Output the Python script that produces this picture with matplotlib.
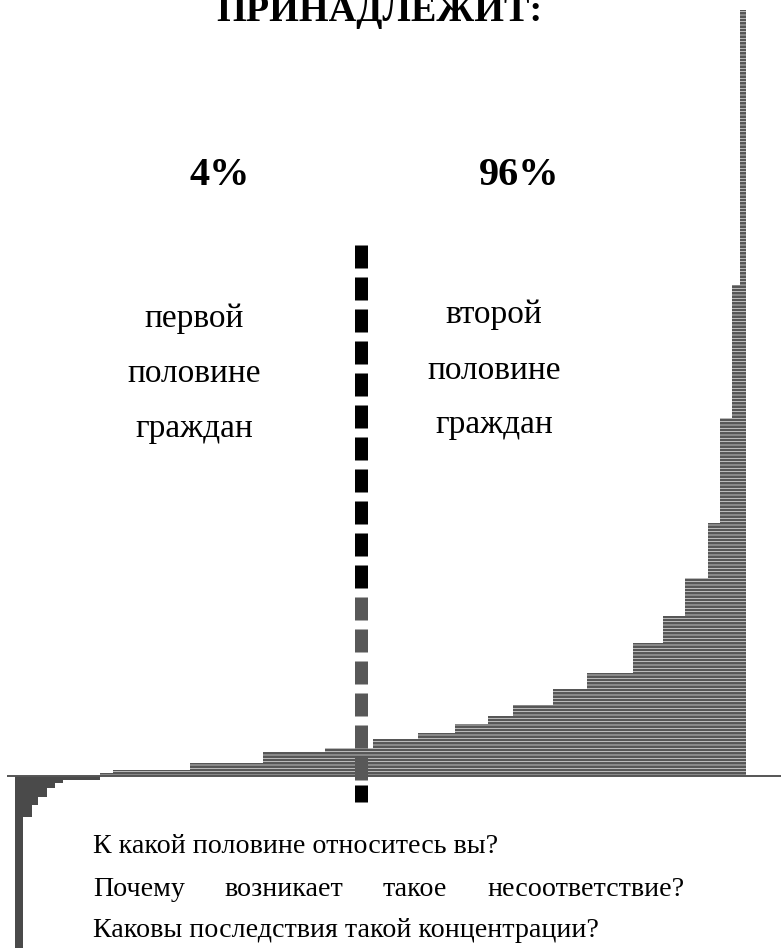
import numpy as np
import matplotlib
matplotlib.use("Agg")
import matplotlib.pyplot as plt

plt.rcParams['font.family'] = ['Liberation Serif', 'DejaVu Serif']
plt.rcParams['hatch.linewidth'] = 0.5
plt.rcParams['lines.scale_dashes'] = False

# ---- data: population percentile step edges and wealth per step ----
edges = [0, 1.1, 2.3, 3.1, 4.4, 5.5, 6.6, 11.6, 13.4, 23.9, 33.9, 42.4, 49.0,
         55.1, 60.2, 64.7, 68.1, 73.6, 78.2, 84.5, 88.6, 91.7, 94.8, 96.4,
         98.1, 99.2, 100]
wealth = [-185, -41, -29, -21, -12, -7, -4, 3, 6, 13, 24, 28, 37,
          43, 52, 60, 71, 87, 103, 133, 160, 198, 253, 358, 491, 766]
median_x = 47.3

title = "ПРИНАДЛЕЖИТ:"
share_labels = ["4%", "96%"]
left_label = ["первой", "половине", "граждан"]
right_label = ["второй", "половине", "граждан"]
questions_1 = "К какой половине относитесь вы?"
questions_2 = ["Почему", "возникает", "такое", "несоответствие?"]
questions_3 = "Каковы последствия такой концентрации?"

W, H = 781, 948
fig = plt.figure(figsize=(W / 100, H / 100), dpi=100)
fig.patch.set_facecolor('white')

# main data axes mapped so that 0% -> px 15, 100% -> px 746, baseline at py 776
x0_px, x1_px, base_py = 15, 746, 776
sx = (x1_px - x0_px) / 100.0
ax = fig.add_axes([0, 0, 1, 1])
ax.set_xlim(-x0_px / sx, (W - x0_px) / sx)
ax.set_ylim(base_py - H, base_py)
ax.axis('off')

e = np.array(edges)
v = np.array(wealth)
widths = np.diff(e)
neg = v < 0
ax.bar(e[:-1][neg], v[neg], width=widths[neg], align='edge',
       color='#4a4a4a', linewidth=0, zorder=2)
ax.bar(e[:-1][~neg], v[~neg], width=widths[~neg], align='edge',
       facecolor='#565656', edgecolor='#e8e8e8', hatch='-----', linewidth=0,
       zorder=2)

# baseline
ax.plot([(7 - x0_px) / sx, (W - x0_px) / sx], [0, 0], color='#555555',
        lw=1.4, zorder=3, solid_capstyle='butt')

# dividing dashed line
lw_pt = 13 * 0.72
ax.plot([median_x, median_x], [base_py - 245, base_py - 588], color='black',
        lw=lw_pt, dashes=(23 * 0.72, 9 * 0.72), solid_capstyle='butt',
        dash_capstyle='butt', zorder=4)
ax.plot([median_x, median_x], [base_py - 597, base_py - 780], color='#585858',
        lw=lw_pt, dashes=(23 * 0.72, 9 * 0.72), dash_capstyle='butt', zorder=4)
ax.plot([median_x, median_x], [base_py - 785, base_py - 802], color='black',
        lw=lw_pt, solid_capstyle='butt', zorder=4)

# overlay axes in pixel coordinates for text layout
tx = fig.add_axes([0, 0, 1, 1])
tx.set_xlim(0, W)
tx.set_ylim(H, 0)
tx.axis('off')
tx.patch.set_alpha(0)

tx.text(379, 21, title, ha='center', va='baseline', fontsize=27.5,
        fontweight='bold')
tx.text(220, 185, share_labels[0], ha='center', va='baseline', fontsize=29,
        fontweight='bold')
tx.text(519, 185, share_labels[1], ha='center', va='baseline', fontsize=29,
        fontweight='bold')

for s, yb in zip(left_label, [327, 382, 437]):
    tx.text(194, yb, s, ha='center', va='baseline', fontsize=24)
for s, yb in zip(right_label, [323, 379, 433]):
    tx.text(494, yb, s, ha='center', va='baseline', fontsize=24)

fs_q = 20.2
tx.text(93, 853, questions_1, ha='left', va='baseline', fontsize=fs_q)
for s, xw in zip(questions_2, [93, 224, 383, 487]):
    tx.text(xw, 896, s, ha='left', va='baseline', fontsize=fs_q)
tx.text(93, 937, questions_3, ha='left', va='baseline', fontsize=fs_q)

fig.savefig('out.png', dpi=100)
